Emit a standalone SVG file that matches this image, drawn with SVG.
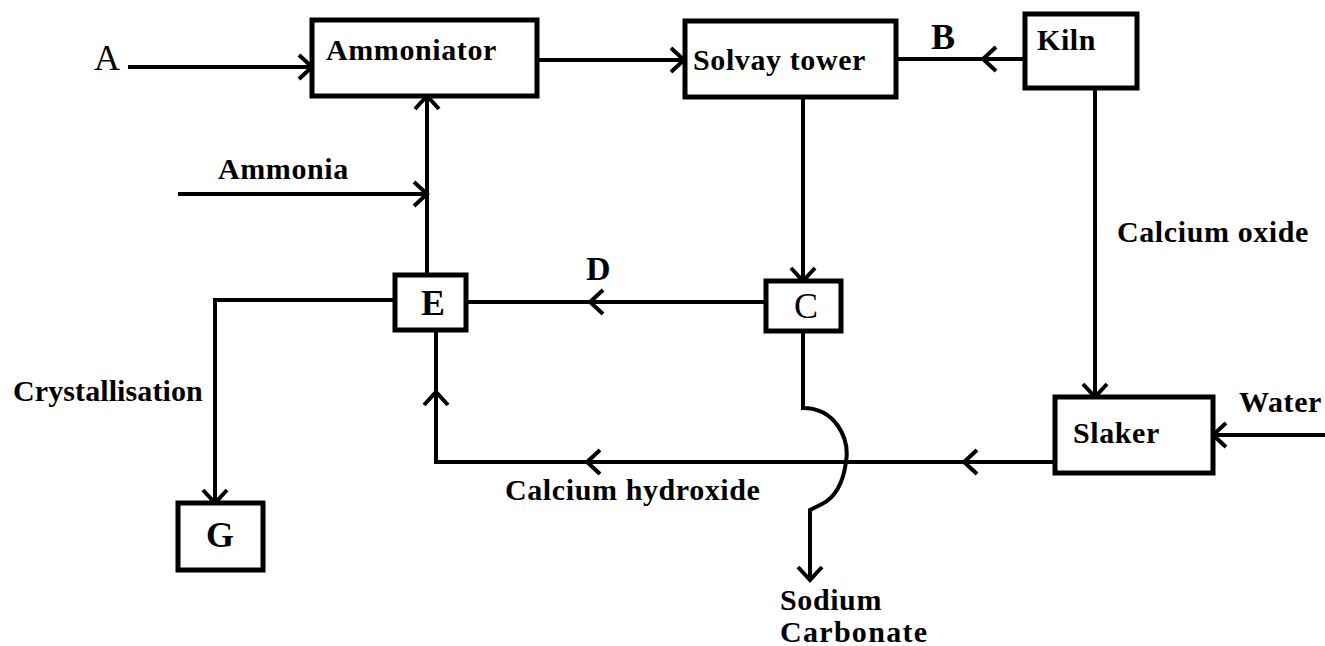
<svg xmlns="http://www.w3.org/2000/svg" width="1325" height="646" viewBox="0 0 1325 646">
<style>
.box{fill:#fff;stroke:#000;stroke-width:5}
.ln{fill:none;stroke:#000;stroke-width:4}
.ch{fill:none;stroke:#000;stroke-width:4;stroke-linecap:butt}
.t{font-family:"Liberation Serif","Times New Roman",serif;font-weight:bold;font-size:30px;letter-spacing:0.6px;fill:#000}
.big{font-size:36px;letter-spacing:0}
.reg{font-weight:normal}
</style>
<defs>
<path id="chev" d="M -13 -12 L 0 0 L -13 12" class="ch"/>
</defs>
<rect width="1325" height="646" fill="#fff"/>
<g id="connectors">
<line class="ln" x1="128" y1="67" x2="312" y2="67"/>
<use href="#chev" transform="translate(312,67)"/>
<line class="ln" x1="537" y1="60" x2="684" y2="60"/>
<use href="#chev" transform="translate(684,60)"/>
<line class="ln" x1="897" y1="59" x2="1025" y2="59"/>
<use href="#chev" transform="translate(983,59) rotate(180)"/>
<line class="ln" x1="178" y1="194" x2="427" y2="194"/>
<use href="#chev" transform="translate(427,194)"/>
<line class="ln" x1="427" y1="275" x2="427" y2="96"/>
<use href="#chev" transform="translate(427,96) rotate(-90)"/>
<line class="ln" x1="803" y1="97" x2="803" y2="281"/>
<use href="#chev" transform="translate(803,281) rotate(90)"/>
<line class="ln" x1="466" y1="302" x2="766" y2="302"/>
<use href="#chev" transform="translate(590,302) rotate(180)"/>
<polyline class="ln" points="395,300 215,300 215,503"/>
<use href="#chev" transform="translate(215,503) rotate(90)"/>
<polyline class="ln" points="436,331 436,462 1055,462"/>
<use href="#chev" transform="translate(436,392) rotate(-90)"/>
<use href="#chev" transform="translate(587,462) rotate(180)"/>
<use href="#chev" transform="translate(964,462) rotate(180)"/>
<path class="ln" d="M 803 331 L 803 408 C 835 408 850 438 846 462 C 843 484 834 498 822 504 L 810 510 L 810 580"/>
<use href="#chev" transform="translate(810,580) rotate(90)"/>
<line class="ln" x1="1095" y1="89" x2="1095" y2="397"/>
<use href="#chev" transform="translate(1095,397) rotate(90)"/>
<line class="ln" x1="1325" y1="435" x2="1213" y2="435"/>
<use href="#chev" transform="translate(1213,435) rotate(180)"/>
</g>
<g id="ammoniator">
<rect class="box" x="312" y="20" width="225" height="76"/>
<text class="t" x="326" y="60">Ammoniator</text>
</g>
<g id="solvay">
<rect class="box" x="685" y="21" width="211" height="76"/>
<text class="t" x="693" y="70">Solvay tower</text>
</g>
<g id="kiln">
<rect class="box" x="1025" y="14" width="112" height="74"/>
<text class="t" x="1037" y="50">Kiln</text>
</g>
<g id="E">
<rect class="box" x="395" y="275" width="71" height="55"/>
<text class="t big" x="433" y="315" text-anchor="middle">E</text>
</g>
<g id="C">
<rect class="box" x="766" y="281" width="75" height="50"/>
<text class="t big reg" x="806" y="318" text-anchor="middle">C</text>
</g>
<g id="slaker">
<rect class="box" x="1055" y="397" width="158" height="76"/>
<text class="t" x="1073" y="443">Slaker</text>
</g>
<g id="G">
<rect class="box" x="178" y="503" width="85" height="67"/>
<text class="t big" x="220" y="547" text-anchor="middle">G</text>
</g>
<g id="labels">
<text class="t big reg" x="94" y="70">A</text>
<text class="t big" x="931" y="49">B</text>
<text class="t big" x="586" y="280" style="font-size:34px">D</text>
<text class="t" x="218" y="179">Ammonia</text>
<text class="t" x="1117" y="242">Calcium oxide</text>
<text class="t" x="1239" y="412">Water</text>
<text class="t" x="13" y="401" style="letter-spacing:0.1px">Crystallisation</text>
<text class="t" x="505" y="500">Calcium hydroxide</text>
<text class="t" x="780" y="610">Sodium</text>
<text class="t" x="780" y="642" style="letter-spacing:1.3px">Carbonate</text>
</g>
</svg>
